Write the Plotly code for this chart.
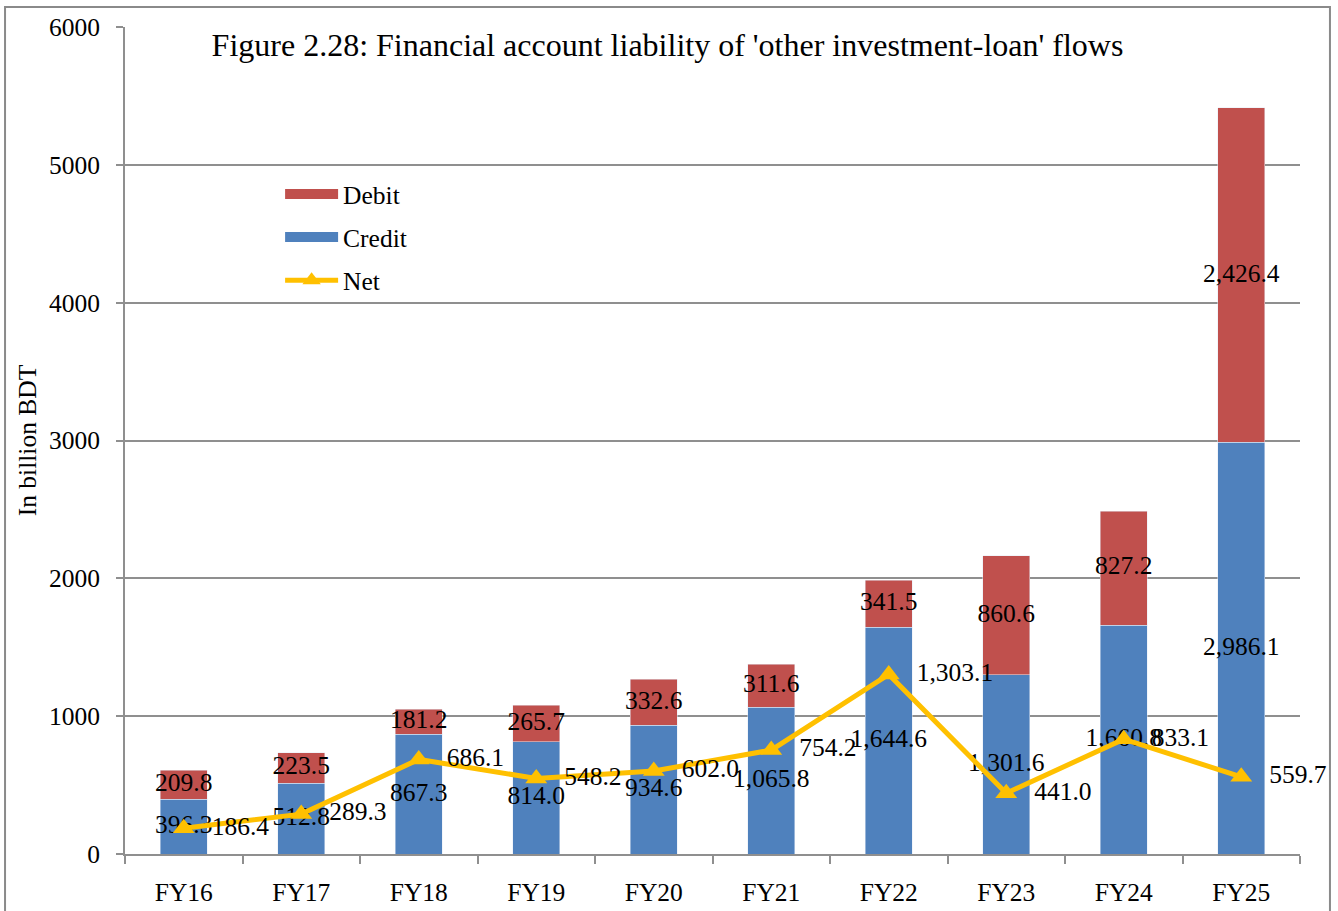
import plotly.graph_objects as go

years = ["FY16", "FY17", "FY18", "FY19", "FY20", "FY21", "FY22", "FY23", "FY24", "FY25"]
credit = [396.3, 512.8, 867.3, 814.0, 934.6, 1065.8, 1644.6, 1301.6, 1660.8, 2986.1]
debit = [209.8, 223.5, 181.2, 265.7, 332.6, 311.6, 341.5, 860.6, 827.2, 2426.4]
net = [186.4, 289.3, 686.1, 548.2, 602.0, 754.2, 1303.1, 441.0, 833.1, 559.7]

RED = "#C0504D"
BLUE = "#4F81BD"
GOLD = "#FFC000"
GRID = "#8f8f8f"
FONT = "Liberation Serif"
FS = 25.5

fmt = lambda v: f"{v:,.1f}"

fig = go.Figure()

# stacked bars (credit at bottom, debit on top)
fig.add_trace(go.Bar(x=years, y=credit, name="Credit", marker_color=BLUE,
                     showlegend=False, hoverinfo="x+y"))
fig.add_trace(go.Bar(x=years, y=debit, name="Debit", marker_color=RED,
                     showlegend=False, hoverinfo="x+y"))

# value labels centred in each segment
fig.add_trace(go.Scatter(x=years, y=[c / 2 for c in credit], mode="text",
                         text=[fmt(v) for v in credit], textposition="middle center",
                         textfont=dict(size=FS, color="black"), showlegend=False,
                         hoverinfo="skip", cliponaxis=False))
fig.add_trace(go.Scatter(x=years, y=[c + d / 2 for c, d in zip(credit, debit)], mode="text",
                         text=[fmt(v) for v in debit], textposition="middle center",
                         textfont=dict(size=FS, color="black"), showlegend=False,
                         hoverinfo="skip", cliponaxis=False))

# net line
fig.add_trace(go.Scatter(x=years, y=net, name="Net", mode="lines+markers",
                         line=dict(color=GOLD, width=5),
                         marker=dict(symbol="triangle-up", size=19, color=GOLD),
                         showlegend=False, cliponaxis=False))
# net labels, pushed a little further right of the markers
fig.add_trace(go.Scatter(x=years, y=net, mode="markers+text",
                         marker=dict(size=43, color="rgba(0,0,0,0)"),
                         text=[fmt(v) for v in net], textposition="middle right",
                         textfont=dict(size=FS, color="black"), showlegend=False,
                         hoverinfo="skip", cliponaxis=False))

# legend entries (wide swatches like the original)
fig.add_trace(go.Scatter(x=[None], y=[None], name="Debit", mode="lines",
                         line=dict(color=RED, width=13), legendrank=1, legendgroup="a"))
fig.add_trace(go.Scatter(x=[None], y=[None], name="Credit", mode="lines",
                         line=dict(color=BLUE, width=13), legendrank=2, legendgroup="b"))
fig.add_trace(go.Scatter(x=[None], y=[None], name="Net", mode="lines+markers",
                         line=dict(color=GOLD, width=5),
                         marker=dict(symbol="triangle-up", size=17, color=GOLD),
                         legendrank=3, legendgroup="c"))

fig.update_layout(
    barmode="stack",
    bargap=0.6,
    width=1338, height=911,
    margin=dict(l=125, r=38, t=27, b=57, autoexpand=False),
    plot_bgcolor="white", paper_bgcolor="white",
    font=dict(family=FONT, size=FS, color="black"),
    title=dict(text="Figure 2.28: Financial account liability of 'other investment-loan' flows",
               x=0.4617, xref="paper", xanchor="center",
               y=1 - 45 / 911, yref="container", yanchor="middle",
               font=dict(family=FONT, size=32, color="black")),
    legend=dict(x=0.132, y=0.826, xanchor="left", yanchor="top",
                bgcolor="rgba(0,0,0,0)", traceorder="grouped", tracegroupgap=7,
                itemwidth=53, font=dict(family=FONT, size=FS, color="black")),
    xaxis=dict(type="category", range=[-0.5, 9.5], showline=True, linecolor=GRID,
               linewidth=2, ticks="outside", tickson="boundaries", ticklen=8,
               tickcolor=GRID, tickwidth=2, showgrid=False, ticklabelstandoff=14,
               automargin=False),
    yaxis=dict(range=[0, 6000], dtick=1000, tickformat="d", showline=True,
               linecolor=GRID, linewidth=2, ticks="outside", ticklen=7,
               tickcolor=GRID, tickwidth=2, showgrid=True, gridcolor=GRID,
               gridwidth=2, zeroline=False, ticklabelstandoff=11, automargin=False,
               title=dict(text="In billion BDT", standoff=5,
                          font=dict(family=FONT, size=FS, color="black"))),
    shapes=[dict(type="rect", xref="paper", yref="paper",
                 x0=-0.1021, x1=1.0255, y0=-0.08, y1=1.0242,
                 line=dict(color="#8a8a8a", width=2), layer="below")],
)

# drop the default page margin so the figure sits at the window's corner
fig.write_html("out.html", config={"displayModeBar": False},
               post_script="document.body.style.margin='0';")
